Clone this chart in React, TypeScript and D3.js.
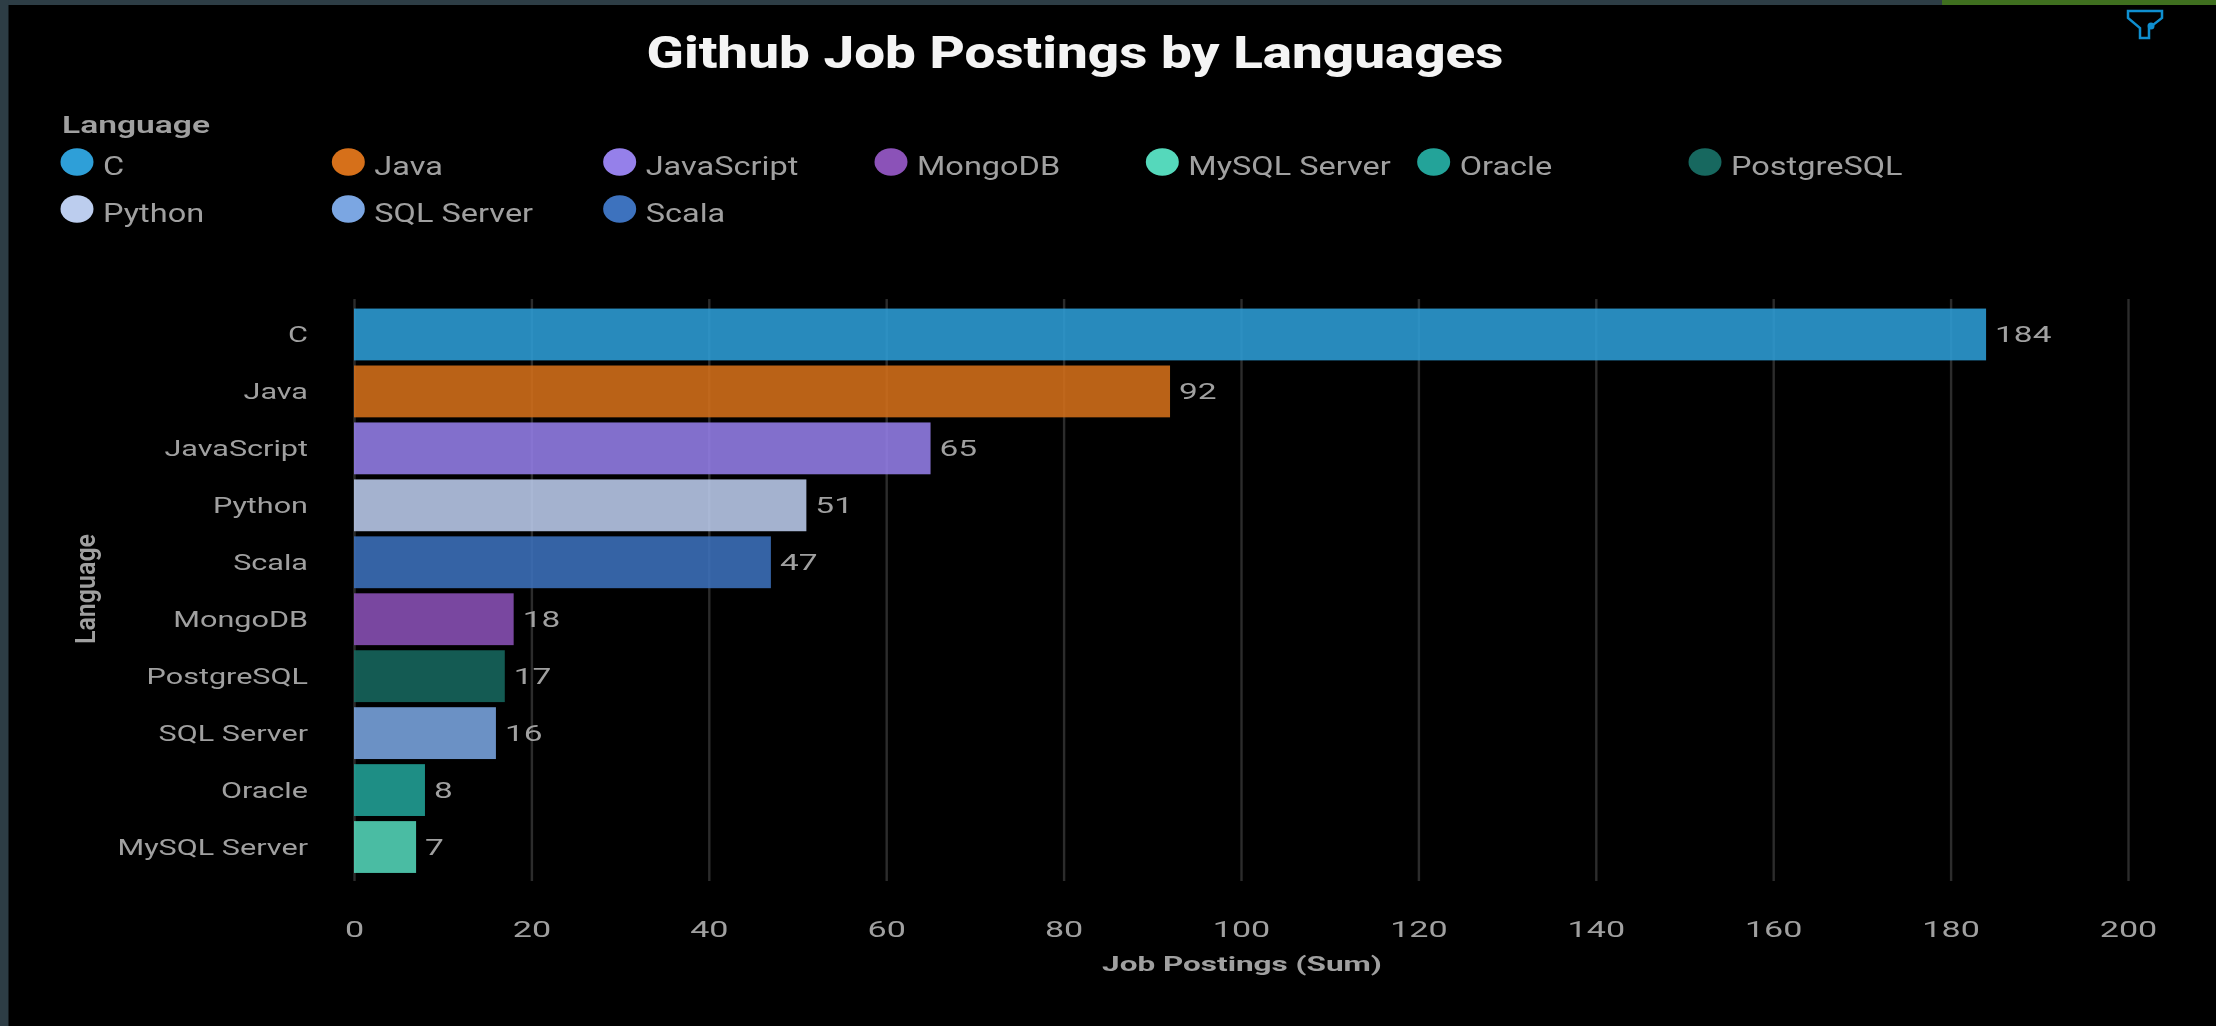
import * as d3 from "d3";
import React from "react";

const languages = ["C", "Java", "JavaScript", "Python", "Scala", "MongoDB", "PostgreSQL", "SQL Server", "Oracle", "MySQL Server"];
const postings = [184, 92, 65, 51, 47, 18, 17, 16, 8, 7];
const xTicks = [0, 20, 40, 60, 80, 100, 120, 140, 160, 180, 200];
const legendOrder = ["C", "Java", "JavaScript", "MongoDB", "MySQL Server", "Oracle", "PostgreSQL", "Python", "SQL Server", "Scala"];
const legendColors = ["#2e9fd8", "#d6701a", "#9580ea", "#8b52b8", "#55d8bb", "#23a399", "#17685f", "#bccdee", "#7ba6e2", "#3d72be"];

const FONT = "Roboto, sans-serif";
const WIDTH = 2216;
const HEIGHT = 1026;
const GREY = "#a0a0a0";

// the source screenshot is stretched sideways, so every label gets an x scale
function stretched(x: number, y: number, sx: number, rotate = 0) {
  return `translate(${x},${y}) scale(${sx},1)` + (rotate ? ` rotate(${rotate})` : "");
}

function App() {
  const svgRef = React.useRef<SVGSVGElement>(null);

  React.useEffect(() => {
    const svg = d3.select(svgRef.current);
    svg.selectAll("*").remove();

    const x = d3.scaleLinear().domain([0, 200]).range([354, 2128]);
    const y = d3.scaleBand().domain(languages).range([306, 875.5]).paddingInner(0.09).paddingOuter(0.045);
    const color = d3.scaleOrdinal<string, string>().domain(legendOrder).range(legendColors);

    svg.append("rect").attr("width", WIDTH).attr("height", HEIGHT).attr("fill", "#000");

    // window chrome at the edges of the screenshot
    svg.append("rect").attr("width", WIDTH).attr("height", 5).attr("fill", "#2d3d45");
    svg.append("rect").attr("width", 8.5).attr("height", HEIGHT).attr("fill", "#2d3d45");
    svg.append("rect").attr("x", 1942).attr("width", WIDTH - 1942).attr("height", 5).attr("fill", "#3f6f1f");

    svg.append("text")
      .attr("transform", stretched(1075, 68, 1.245))
      .attr("text-anchor", "middle")
      .attr("font-family", FONT)
      .attr("font-weight", 800)
      .attr("font-size", 44)
      .attr("fill", "#f4f4f4")
      .text("Github Job Postings by Languages");

    // filter icon
    const icon = svg.append("g").attr("fill", "none").attr("stroke", "#0f8fd0").attr("stroke-width", 2.5);
    icon.append("path").attr("d", "M2128 11H2162V18L2149 28V38H2140V28L2128 18Z");
    icon.append("circle").attr("cx", 2151).attr("cy", 26).attr("r", 3.5).attr("fill", "#0f8fd0").attr("stroke", "none");

    // legend
    svg.append("text")
      .attr("transform", stretched(62, 133, 1.4))
      .attr("font-family", FONT)
      .attr("font-weight", 600)
      .attr("font-size", 24)
      .attr("fill", GREY)
      .text("Language");

    const legendX = d3.scaleLinear().domain([0, 6]).range([77, 1705]);
    const legendY = d3.scaleLinear().domain([0, 1]).range([162, 209]);
    const item = svg.append("g").selectAll("g").data(legendOrder).join("g");
    item.append("ellipse")
      .attr("cx", (_, i) => legendX(i % 7))
      .attr("cy", (_, i) => legendY(Math.floor(i / 7)))
      .attr("rx", 16.5)
      .attr("ry", 13.7)
      .attr("fill", (d) => color(d));
    item.append("text")
      .attr("transform", (_, i) => stretched(legendX(i % 7) + 26, legendY(Math.floor(i / 7)) + 13, 1.3))
      .attr("font-family", FONT)
      .attr("font-size", 25)
      .attr("fill", GREY)
      .text((d) => d);

    // x axis with grid lines running up through the plot
    const xAxis = d3.axisBottom(x).tickValues(xTicks).tickSize(0).tickFormat((d) => String(d));
    svg.append("g")
      .attr("transform", "translate(0,881)")
      .call(xAxis)
      .call((g: any) => g.select(".domain").remove())
      .call((g: any) => g.selectAll(".tick line").attr("y2", -582).attr("stroke", "#2c2c2c").attr("stroke-width", 2.4))
      .call((g: any) =>
        g.selectAll(".tick text")
          .attr("x", null).attr("y", null).attr("dy", null)
          .attr("transform", stretched(0, 56, 1.55))
          .attr("font-family", FONT)
          .attr("font-size", 22)
          .attr("fill", GREY),
      );

    // y axis labels
    const yAxis = d3.axisLeft(y).tickSize(0);
    svg.append("g")
      .attr("transform", "translate(308,0)")
      .call(yAxis)
      .call((g: any) => g.select(".domain").remove())
      .call((g: any) =>
        g.selectAll(".tick text")
          .attr("x", null).attr("dy", null)
          .attr("transform", stretched(0, 8, 1.39))
          .attr("font-family", FONT)
          .attr("font-size", 22)
          .attr("fill", GREY),
      );

    // bars
    const rows = languages.map((name, i) => ({ name, value: postings[i] }));
    svg.append("g").selectAll("rect").data(rows).join("rect")
      .attr("x", x(0))
      .attr("y", (d) => y(d.name) as number)
      .attr("width", (d) => x(d.value) - x(0))
      .attr("height", y.bandwidth())
      .attr("fill", (d) => color(d.name))
      .attr("fill-opacity", 0.87);

    // value labels
    svg.append("g").selectAll("text").data(rows).join("text")
      .attr("transform", (d) => stretched(x(d.value) + 9, (y(d.name) as number) + y.bandwidth() / 2 + 8, 1.52))
      .attr("font-family", FONT)
      .attr("font-size", 22)
      .attr("fill", GREY)
      .text((d) => d.value);

    svg.append("text")
      .attr("transform", stretched(1242, 971, 1.5))
      .attr("text-anchor", "middle")
      .attr("font-family", FONT)
      .attr("font-weight", 700)
      .attr("font-size", 21)
      .attr("fill", GREY)
      .text("Job Postings (Sum)");

    svg.append("text")
      .attr("transform", stretched(95, 589, 1.1, -90))
      .attr("text-anchor", "middle")
      .attr("font-family", FONT)
      .attr("font-weight", 600)
      .attr("font-size", 25)
      .attr("fill", GREY)
      .text("Language");
  }, []);

  return (
    <svg
      ref={svgRef}
      width={WIDTH}
      height={HEIGHT}
      style={{ position: "absolute", left: 0, top: 0, display: "block", filter: "blur(0.5px)" }}
    />
  );
}

export default App;
